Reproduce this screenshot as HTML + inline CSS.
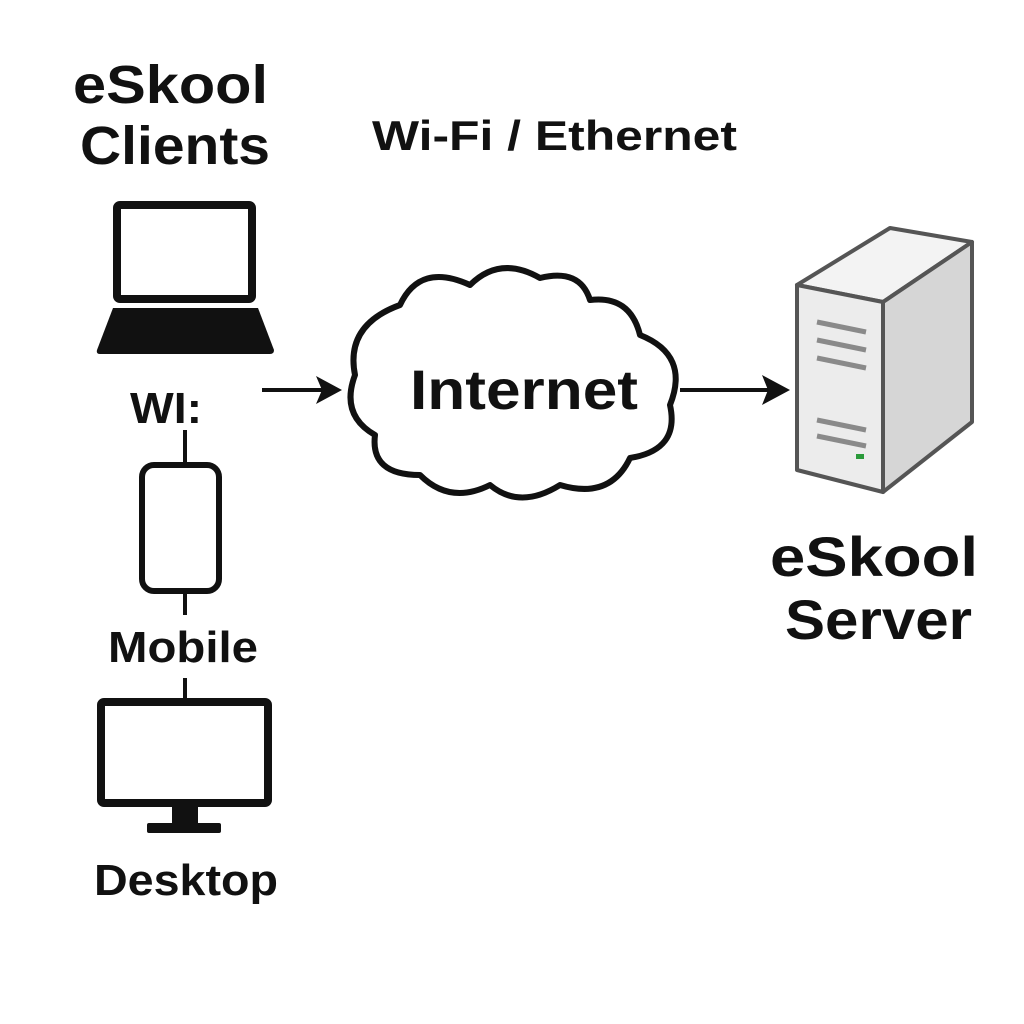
<!DOCTYPE html>
<html><head><meta charset="utf-8"><style>
html,body{margin:0;padding:0;background:#fff}
svg{display:block}
text{font-family:"Liberation Sans","DejaVu Sans",sans-serif;fill:#111}
</style></head><body>
<svg width="1024" height="1024" viewBox="0 0 1024 1024" xmlns="http://www.w3.org/2000/svg">
<rect width="1024" height="1024" fill="#fff"/>
<text x="73" y="103" font-size="54" font-weight="bold" textLength="195" lengthAdjust="spacingAndGlyphs">eSkool</text>
<text x="80" y="164" font-size="54" font-weight="bold" textLength="190" lengthAdjust="spacingAndGlyphs">Clients</text>
<text x="372" y="150" font-size="42" font-weight="bold" fill="#1a1a1a" textLength="365" lengthAdjust="spacingAndGlyphs">Wi-Fi / Ethernet</text>
<!-- laptop -->
<rect x="117" y="205" width="135" height="94" rx="3" fill="none" stroke="#111" stroke-width="8"/>
<path d="M113 308 L258 308 L274 350 Q274 354 270 354 L100 354 Q96 354 97 350 Z" fill="#111"/>
<text x="130" y="423" font-size="44" font-weight="bold" textLength="72" lengthAdjust="spacingAndGlyphs">WI:</text>
<!-- connectors -->
<line x1="185" y1="430" x2="185" y2="465" stroke="#111" stroke-width="4"/>
<rect x="142" y="465" width="77" height="126" rx="12" fill="none" stroke="#111" stroke-width="6"/>
<line x1="185" y1="592" x2="185" y2="615" stroke="#111" stroke-width="4"/>
<text x="108" y="662" font-size="44" font-weight="bold" textLength="150" lengthAdjust="spacingAndGlyphs">Mobile</text>
<line x1="185" y1="678" x2="185" y2="700" stroke="#111" stroke-width="4"/>
<rect x="101" y="702" width="167" height="101" rx="3" fill="none" stroke="#111" stroke-width="8"/>
<rect x="172" y="805" width="26" height="20" fill="#111"/>
<rect x="147" y="823" width="74" height="10" rx="2" fill="#111"/>
<text x="94" y="895" font-size="44" font-weight="bold" textLength="184" lengthAdjust="spacingAndGlyphs">Desktop</text>
<!-- arrows -->
<line x1="262" y1="390" x2="322" y2="390" stroke="#111" stroke-width="4"/>
<path d="M342 390 L316 376 L322 390 L316 404 Z" fill="#111"/>
<line x1="680" y1="390" x2="768" y2="390" stroke="#111" stroke-width="4"/>
<path d="M790 390 L762 375 L768 390 L762 405 Z" fill="#111"/>
<!-- cloud -->
<path d="M400 305 Q420 262 470 285 Q500 255 540 278 Q580 268 590 300 Q630 295 640 335 Q690 355 670 405 Q680 450 630 458 Q610 500 560 485 Q520 510 490 485 Q450 505 420 475 Q370 475 375 435 Q340 415 355 375 Q345 325 400 305 Z" fill="#fff" stroke="#111" stroke-width="6" stroke-linejoin="round"/>
<text x="410" y="409" font-size="56" font-weight="bold" textLength="228" lengthAdjust="spacingAndGlyphs">Internet</text>
<!-- server -->
<polygon points="797,285 883,302 972,242 890,228" fill="#f3f3f3" stroke="#555" stroke-width="4" stroke-linejoin="round"/>
<polygon points="797,285 883,302 883,492 797,470" fill="#ececec" stroke="#555" stroke-width="4" stroke-linejoin="round"/>
<polygon points="883,302 972,242 972,422 883,492" fill="#d6d6d6" stroke="#555" stroke-width="4" stroke-linejoin="round"/>
<g stroke="#8a8a8a" stroke-width="5">
<line x1="817" y1="322" x2="866" y2="332"/>
<line x1="817" y1="340" x2="866" y2="350"/>
<line x1="817" y1="358" x2="866" y2="368"/>
<line x1="817" y1="420" x2="866" y2="430"/>
<line x1="817" y1="436" x2="866" y2="446"/>
</g>
<rect x="856" y="454" width="8" height="5" fill="#2a9a3a"/>
<text x="770" y="576" font-size="56" font-weight="bold" textLength="208" lengthAdjust="spacingAndGlyphs">eSkool</text>
<text x="785" y="639" font-size="56" font-weight="bold" textLength="187" lengthAdjust="spacingAndGlyphs">Server</text>
</svg>
</body></html>
